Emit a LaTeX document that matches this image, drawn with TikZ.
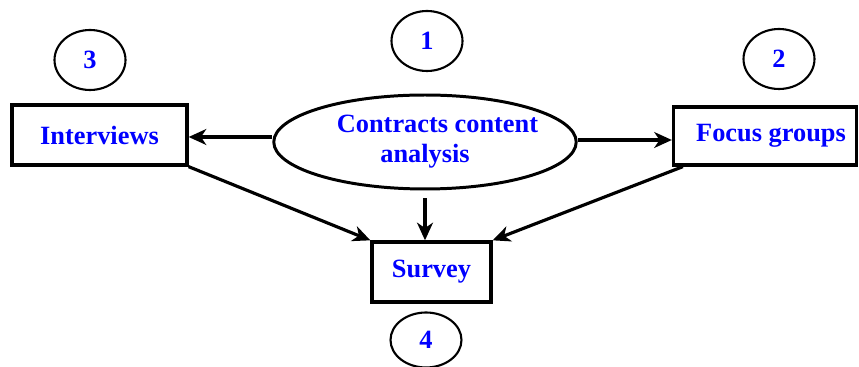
\documentclass[tikz,border=0pt]{standalone}
\usepackage{fontspec}
\setmainfont{Liberation Serif}
\usetikzlibrary{shapes.geometric,arrows.meta}
\definecolor{tblue}{RGB}{0,0,255}
\tikzset{
  lbl/.style={font=\fontsize{15}{17}\selectfont\bfseries, text=tblue},
  boxnode/.style={draw, line width=1.9pt, lbl, inner sep=0pt},
  numnode/.style={draw, ellipse, line width=1.2pt, lbl, inner sep=0pt, minimum width=1.42cm, minimum height=1.2cm},
  arr/.style={line width=1.8pt, -{Stealth[length=10pt,width=9pt,inset=3pt]}}
}
\begin{document}
\begin{tikzpicture}[x=0.02cm,y=-0.02cm]
\useasboundingbox (0,0) rectangle (859,367);
\node[boxnode, minimum width=3.5cm, minimum height=1.2cm] (int) at (99.5,135) {Interviews};
\node[boxnode, minimum width=3.66cm, minimum height=1.16cm] (foc) at (765,136) {\hspace*{0.24cm}Focus groups};
\node[boxnode, minimum width=2.38cm, minimum height=1.2cm] (sur) at (431.5,272) {Survey};
\node[draw, ellipse, line width=1.7pt, lbl, inner sep=0pt, minimum width=6.05cm, minimum height=1.88cm, align=center] (ell) at (425,142) {\makebox[0pt]{\hspace*{0.5cm}Contracts content}\\\makebox[0pt]{analysis}};
\node[numnode] (n1) at (427,41) {1};
\node[numnode] (n3) at (90,60) {3};
\node[numnode] (n2) at (779,59) {2};
\node[numnode, minimum height=1.1cm] (n4) at (426,340) {4};
\coordinate (el) at ([yshift=0.1cm]ell.west);
\coordinate (er) at ([yshift=0.04cm]ell.east);
\draw[arr] (el) -- (el -| int.east);
\draw[arr] (er) -- (er -| foc.west);
\draw[arr, line width=2.6pt] ([yshift=-0.16cm]ell.south) -- (ell.south |- sur.north);
\draw[arr] (int.south east) -- (sur.north west);
\draw[arr] ([xshift=0.22cm]foc.south west) -- (sur.north east);
\end{tikzpicture}
\end{document}
